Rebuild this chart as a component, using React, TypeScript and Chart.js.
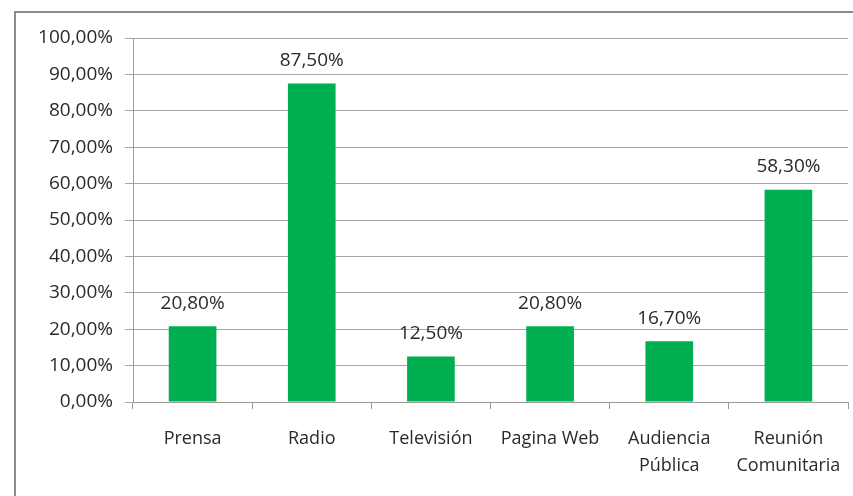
import React, { useEffect, useRef } from "react";
import { Chart, registerables } from "chart.js";

Chart.register(...registerables);

const categories: (string | string[])[] = [
  "Prensa",
  "Radio",
  "Televisión",
  "Pagina Web",
  ["Audiencia", "Pública"],
  ["Reunión", "Comunitaria"],
];
const values: number[] = [20.8, 87.5, 12.5, 20.8, 16.7, 58.3];
const yTicks: number[] = [0, 10, 20, 30, 40, 50, 60, 70, 80, 90, 100];

const fmt = (v: number) => v.toFixed(2).replace(".", ",") + "%";
const FONT = "'Open Sans', 'Noto Sans', sans-serif";
const TEXT = "#2a2a2a";

const frame = {
  id: "frame",
  beforeDraw(chart: any) {
    const ctx = chart.ctx;
    ctx.save();
    ctx.fillStyle = "#ffffff";
    ctx.fillRect(0, 0, chart.width, chart.height);
    ctx.strokeStyle = "#8c8c8c";
    ctx.lineWidth = 2;
    ctx.strokeRect(15, 12, chart.width + 20, chart.height + 20);
    ctx.restore();
  },
};

const valueLabels = {
  id: "valueLabels",
  afterDatasetsDraw(chart: any) {
    const ctx = chart.ctx;
    const meta = chart.getDatasetMeta(0);
    ctx.save();
    ctx.font = `19px ${FONT}`;
    ctx.fillStyle = TEXT;
    ctx.textAlign = "center";
    ctx.textBaseline = "middle";
    meta.data.forEach((el: any, i: number) => {
      ctx.fillText(fmt(values[i]), el.x, el.y - 23);
    });
    ctx.restore();
  },
};

export default function App() {
  const ref = useRef<HTMLCanvasElement | null>(null);
  useEffect(() => {
    document.body.style.margin = "0";
    const chart = new Chart(ref.current as HTMLCanvasElement, {
      type: "bar",
      data: {
        labels: categories,
        datasets: [
          {
            data: values,
            backgroundColor: "#00b050",
            borderWidth: 0,
            barPercentage: 0.4,
            categoryPercentage: 1,
          },
        ],
      },
      options: {
        responsive: false,
        animation: false,
        layout: { padding: { left: 0, right: 5, top: 38, bottom: 0 } },
        plugins: {
          legend: { display: false },
          tooltip: { enabled: false },
        },
        scales: {
          x: {
            grid: {
              offset: true,
              drawOnChartArea: false,
              drawTicks: true,
              tickLength: 7,
              color: "#9a9a9a",
            },
            border: { color: "#9a9a9a" },
            ticks: {
              color: TEXT,
              font: { family: FONT, size: 18, lineHeight: 1.5 },
              padding: 16,
              maxRotation: 0,
              autoSkip: false,
            },
            afterFit: (s: any) => {
              s.height = 94;
              s.paddingLeft = 0;
              s.paddingRight = 0;
            },
          },
          y: {
            min: 0,
            max: 100,
            afterBuildTicks: (s: any) => {
              s.ticks = yTicks.map((v) => ({ value: v }));
            },
            grid: {
              color: "#a6a6a6",
              drawTicks: true,
              tickLength: 8,
            },
            border: { color: "#9a9a9a" },
            ticks: {
              color: TEXT,
              font: { family: FONT, size: 19 },
              padding: 12,
              callback: (v: any) => fmt(Number(v)),
            },
            afterFit: (s: any) => {
              s.width = 133;
            },
          },
        },
      },
      plugins: [frame, valueLabels],
    });
    return () => chart.destroy();
  }, []);
  return <canvas ref={ref} width={853} height={496} />;
}
